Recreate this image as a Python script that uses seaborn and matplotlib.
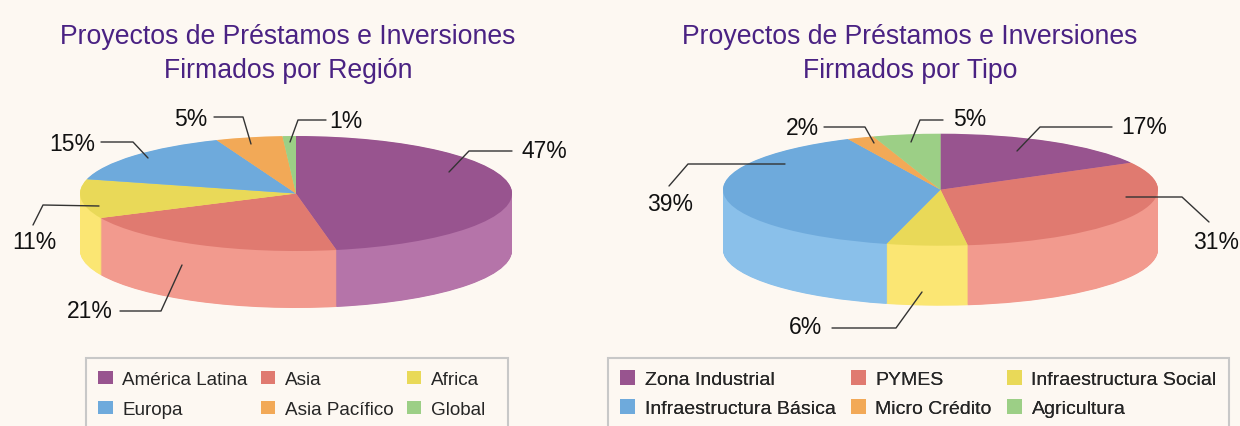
import matplotlib
matplotlib.use('Agg')
import matplotlib.pyplot as plt
import seaborn as sns
from matplotlib.patches import Patch, Rectangle

# datos
region_labels = ['América Latina', 'Asia', 'Africa', 'Europa', 'Asia Pacífico', 'Global']
region_values = [47, 21, 11, 15, 5, 1]

tipo_labels = ['Zona Industrial', 'PYMES', 'Infraestructura Social',
               'Infraestructura Básica', 'Micro Crédito', 'Agricultura']
tipo_values = [17, 31, 6, 39, 2, 5]

top_colors = ['#98548f', '#e07a70', '#e9d958', '#6eaadc', '#f2a957', '#9ccf86']
side_colors = ['#b574a9', '#f29a8e', '#fbe673', '#8ac0ea', '#f7c27a', '#b7e2a2']

titulo_1 = 'Proyectos de Préstamos e Inversiones'
titulo_region = 'Firmados por Región'
titulo_tipo = 'Firmados por Tipo'

bg = '#fdf8f2'
purple = '#4a2283'

sns.set_theme(style='white')
plt.rcParams['font.family'] = ['Liberation Sans', 'DejaVu Sans']

W, H = 1240, 427
fig = plt.figure(figsize=(W / 100, H / 100), dpi=100, facecolor=bg)

# capa de anotaciones en pixeles
over = fig.add_axes([0, 0, 1, 1], zorder=5)
over.set_xlim(0, W)
over.set_ylim(H, 0)
over.axis('off')
over.patch.set_alpha(0)


def pie3d(values, cx, cy, rx, ry, depth, xl=1.4, yb=2.4, yt=1.9):
    # torta "3D": varias capas desplazadas para el costado + la cara superior
    ax = fig.add_axes([(cx - xl * rx) / W, (H - cy - yb * ry) / H,
                       2 * xl * rx / W, (yb + yt) * ry / H])
    steps = int(depth * 2)
    for k in range(steps, 0, -1):
        ax.pie(values, colors=side_colors, startangle=90, counterclock=False,
               center=(0, -k * 0.5 / ry), radius=1,
               wedgeprops=dict(linewidth=0))
    ax.pie(values, colors=top_colors, startangle=90, counterclock=False,
           center=(0, 0), radius=1, wedgeprops=dict(linewidth=0))
    ax.set_aspect('auto')
    ax.set_xlim(-xl, xl)
    ax.set_ylim(-yb, yt)
    ax.axis('off')
    return ax


pie3d(region_values, 296, 194.5, 216, 57.5, 57)
pie3d(tipo_values, 940.5, 190.7, 217.5, 56, 60)

# titulos
for x, sub in [(288, titulo_region), (910, titulo_tipo)]:
    over.text(x, 44.5, titulo_1, ha='center', va='baseline', fontsize=19.2, color=purple)
    over.text(x, 77.5, sub, ha='center', va='baseline', fontsize=19.2, color=purple)

# etiquetas de porcentaje con lineas guia
region_guides = [
    ([(449, 173), (469, 152), (512, 152)], (522, 152), 'left'),
    ([(182, 266), (161, 312), (120, 312)], (113, 312), 'right'),
    ([(99, 207), (43, 206), (33, 226)], (34, 243), 'center'),
    ([(148, 159), (133, 143), (101, 143)], (95, 145), 'right'),
    ([(251, 145), (243, 118), (214, 118)], (207, 119), 'right'),
    ([(290, 143), (298, 121), (326, 121)], (329, 121), 'left'),
]
tipo_guides = [
    ([(1017, 152), (1040, 128), (1112, 128)], (1121, 128), 'left'),
    ([(1126, 198), (1182, 198), (1209, 223)], (1216, 243), 'center'),
    ([(922, 293), (896, 329), (832, 329)], (822, 328), 'right'),
    ([(785, 165), (688, 165), (669, 187)], (670, 205), 'center'),
    ([(874, 144), (865, 128), (824, 128)], (819, 129), 'right'),
    ([(911, 143), (920, 121), (943, 121)], (953, 119), 'left'),
]
for values, guides in [(region_values, region_guides), (tipo_values, tipo_guides)]:
    for v, (path, (tx, ty), ha) in zip(values, guides):
        xs, ys = zip(*path)
        over.plot(xs, ys, color='#333333', lw=1)
        over.text(tx, ty, f'{v}%', ha=ha, va='center', fontsize=16.5, color='#111111')

# leyendas
order = [0, 3, 1, 4, 2, 5]
for labels, box, anchor, fs, cs, ls in [
        (region_labels, (85.7, 508.3), (98.3, 371.5), 13.6, 0.72, 0.66),
        (tipo_labels, (607.5, 1228.7), (620.4, 371.5), 14.0, 0.78, 0.55)]:
    over.add_patch(Rectangle((box[0], 358.7), box[1] - box[0], 100,
                             facecolor=bg, edgecolor='#c8c8c8', lw=1.5))
    handles = [Patch(facecolor=top_colors[i], edgecolor='none') for i in order]
    over.legend(handles, [labels[i] for i in order], ncol=3, loc='upper left',
                bbox_to_anchor=anchor, bbox_transform=over.transData,
                frameon=False, fontsize=fs, borderpad=0, borderaxespad=0,
                handlelength=0.76, handleheight=0.76, handletextpad=0.5,
                columnspacing=cs, labelspacing=ls)
    over.add_artist(over.get_legend())

fig.savefig('out.png', dpi=100, facecolor=bg)
